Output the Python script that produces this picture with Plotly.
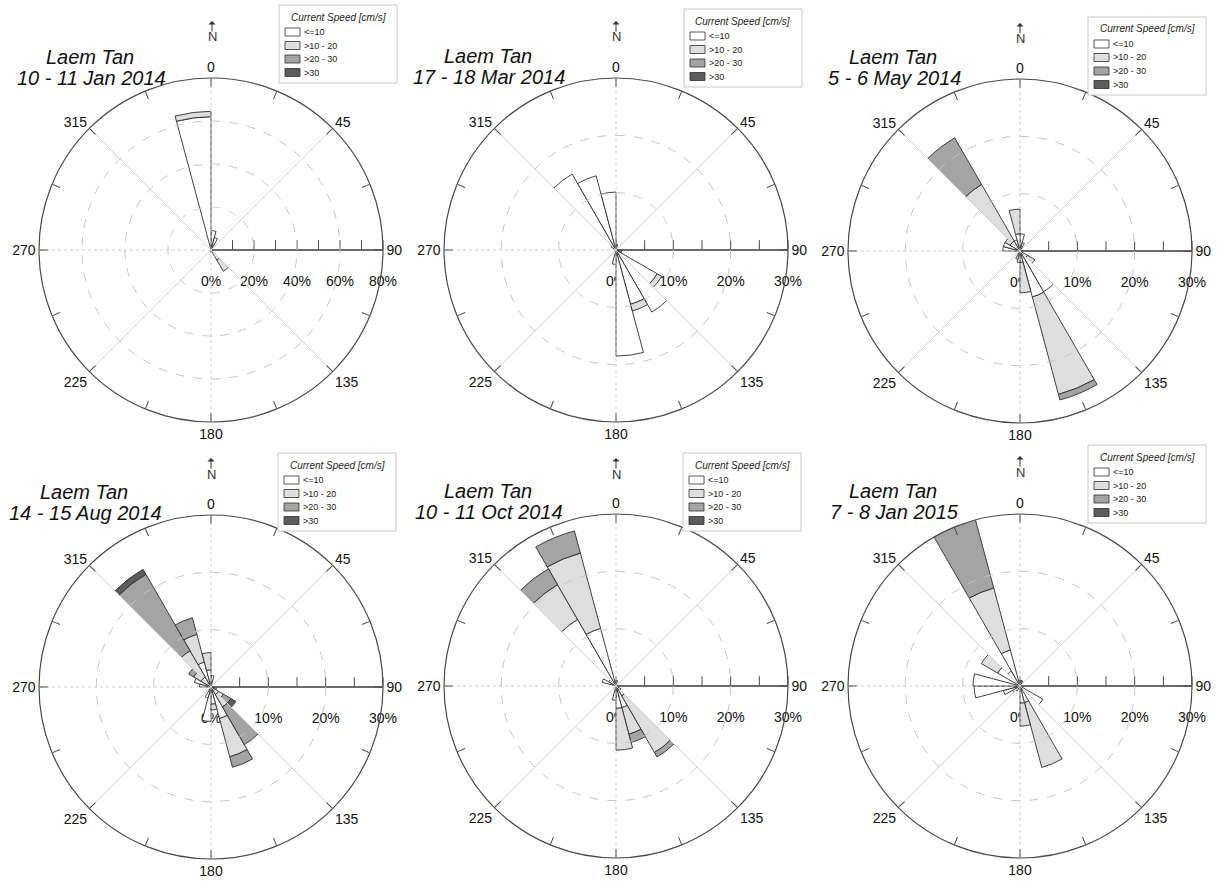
import numpy as np
import plotly.graph_objects as go

# ---------------- data ----------------
DIRECTIONS = [7.5, 22.5, 37.5, 52.5, 67.5, 82.5, 97.5, 112.5, 127.5, 142.5, 157.5, 172.5,
              187.5, 202.5, 217.5, 232.5, 247.5, 262.5, 277.5, 292.5, 307.5, 322.5, 337.5, 352.5]
SPEED_CLASSES = ["<=10", ">10 - 20", ">20 - 30", ">30"]
PANEL_SITE = "Laem Tan"
PANEL_DATES = ["10 - 11 Jan 2014", "17 - 18 Mar 2014", "5 - 6 May 2014",
               "14 - 15 Aug 2014", "10 - 11 Oct 2014", "7 - 8 Jan 2015"]
RADIAL_MAX = [80, 30, 30, 30, 30, 30]

# frequencies (%) per 15-degree direction sector, one list per speed class
JAN14_LE10 = [9, 6, 3, 0, 0, 0, 0, 0, 0, 5.4, 0, 0, 1, 0, 0, 0, 0, 0, 0, 0, 0, 0, 1, 62]
JAN14_10_20 = [0, 0, 0, 0, 0, 0, 0, 0, 0, 6, 0, 0, 0, 0, 0, 0, 0, 0, 0, 0, 0, 0, 0, 2.5]
JAN14_20_30 = [0] * 24
JAN14_GT30 = [0] * 24

MAR14_LE10 = [1, 0, 0, 0, 0, 0, 1, 1, 8.3, 12.5, 9.8, 18.5, 2.5, 0, 0, 0, 0, 0, 0, 0, 1, 15.3, 13.4, 10.1]
MAR14_10_20 = [0, 0, 0, 0, 0, 0, 0, 0, 0.9, 0, 1.2, 0, 0, 0, 0, 0, 0, 0, 0, 0, 0, 0, 0, 0]
MAR14_20_30 = [0] * 24
MAR14_GT30 = [0] * 24

MAY14_LE10 = [3, 1.5, 0, 0, 0, 0, 0, 0, 1.5, 8.2, 8.3, 2, 2, 1.5, 0, 0, 0, 0, 3, 3, 2, 2, 2, 3]
MAY14_10_20 = [0, 0, 0, 0, 0, 0, 0, 0, 1.5, 0, 17.6, 5.3, 0, 0, 0, 0, 0, 0, 0, 0, 1, 11.4, 0, 4.3]
MAY14_20_30 = [0, 0, 0, 0, 0, 0, 0, 0, 0, 0, 1, 0, 0, 0, 0, 0, 0, 0, 0, 0, 0, 9.4, 0, 0]
MAY14_GT30 = [0] * 24

AUG14_LE10 = [2, 0, 0, 0, 0, 0, 0, 1, 1.5, 1.5, 5.7, 3, 6, 2, 0, 0, 0, 0, 2, 3, 2, 2, 4.5, 3]
AUG14_10_20 = [0, 0, 0, 0, 0, 0, 0, 0, 1, 2.5, 6.9, 1, 0, 0, 0, 0, 0, 0, 0, 0, 1.5, 5.3, 5, 3]
AUG14_20_30 = [0, 0, 0, 0, 0, 0, 0, 0, 1.5, 7.6, 1.9, 0, 0, 0, 0, 0, 0, 0, 0, 0, 1, 15.4, 3, 0]
AUG14_GT30 = [0, 0, 0, 0, 0, 0, 0, 0, 1, 0, 0, 0, 0, 0, 0, 0, 0, 0, 0, 0, 0, 1, 0, 0]

OCT14_LE10 = [1, 0, 0, 0, 0, 0, 0, 0, 1, 2, 3.9, 3.9, 2.5, 0, 0, 0, 0, 0, 0, 2.5, 1.5, 13.4, 10.4, 0]
OCT14_10_20 = [0, 0, 0, 0, 0, 0, 0, 0, 0, 11.4, 4.8, 7.3, 0, 0, 0, 0, 0, 0, 0, 0, 0, 7, 13.6, 0]
OCT14_20_30 = [0, 0, 0, 0, 0, 0, 0, 0, 0, 0.9, 1.5, 0, 0, 0, 0, 0, 0, 0, 0, 0, 0, 3.2, 4, 0]
OCT14_GT30 = [0] * 24

JAN15_LE10 = [1, 1, 0, 0, 0, 0, 0, 0, 4.6, 0, 3, 3, 0, 0, 1, 1.5, 3, 8.0, 8.2, 0, 4.5, 3, 6.5, 0]
JAN15_10_20 = [0, 0, 0, 0, 0, 0, 0, 0, 0, 0, 11.7, 4, 0, 0, 0, 0, 0, 0, 0, 0, 3.3, 0, 11.2, 0]
JAN15_20_30 = [0, 0, 0, 0, 0, 0, 0, 0, 0, 0, 0, 0, 0, 0, 0, 0, 0, 0, 0, 0, 0, 0, 13.4, 0]
JAN15_GT30 = [0] * 24

PANELS = [
    [JAN14_LE10, JAN14_10_20, JAN14_20_30, JAN14_GT30],
    [MAR14_LE10, MAR14_10_20, MAR14_20_30, MAR14_GT30],
    [MAY14_LE10, MAY14_10_20, MAY14_20_30, MAY14_GT30],
    [AUG14_LE10, AUG14_10_20, AUG14_20_30, AUG14_GT30],
    [OCT14_LE10, OCT14_10_20, OCT14_20_30, OCT14_GT30],
    [JAN15_LE10, JAN15_10_20, JAN15_20_30, JAN15_GT30],
]

# ---------------- styling / layout ----------------
W, H = 1225, 884
FONT = "Arial, 'Liberation Sans', sans-serif"
CLASS_COLORS = ["#ffffff", "#dedede", "#a4a4a4", "#5c5c5c"]
EDGE = "#2e2e2e"
CENTERS = [(211, 250), (616, 250), (1020, 251), (211, 687), (616, 686), (1020, 686)]
R = 172
TITLE_POS = [(90, 57), (488, 56), (893, 57), (84, 492), (488, 491), (893, 491)]
LEGEND_BOX = [(279, 5), (684, 9), (1088, 17), (278, 453), (683, 453), (1088, 445)]
NORTH_POS = [(212, 33), (616, 33), (1020, 35), (211, 470), (616, 470), (1020, 468)]


def px(x):
    return x / W


def py(y):
    return 1 - y / H


fig = go.Figure()
annotations = []
shapes = []
theta_circle = np.linspace(0, 360, 241)

for k, (cx, cy) in enumerate(CENTERS):
    key = "polar" if k == 0 else f"polar{k + 1}"
    rmax = RADIAL_MAX[k]
    step = rmax / 8 if k == 0 else 5
    rt = list(np.arange(0, rmax + 0.01, step))
    rtext = [f"<br>{int(v)}%" if i % 2 == 0 else "" for i, v in enumerate(rt)]

    # dashed range circles
    for rc in rt[2:-1:2]:
        fig.add_trace(go.Scatterpolar(r=[rc] * len(theta_circle), theta=theta_circle, mode="lines",
                                      line=dict(color="#c4c4c4", width=1, dash="dash"),
                                      hoverinfo="skip", showlegend=False, subplot=key))
    # spokes
    for ang in [0, 45, 135, 180, 225, 270, 315]:
        fig.add_trace(go.Scatterpolar(r=[0, rmax], theta=[ang, ang], mode="lines",
                                      line=dict(color="#cfcfcf", width=1,
                                                dash="dot" if ang % 90 == 0 else "solid"),
                                      hoverinfo="skip", showlegend=False, subplot=key))
    # stacked bars
    for c, vals in enumerate(PANELS[k]):
        r = [v if v > 0 else None for v in vals]
        fig.add_trace(go.Barpolar(r=r, theta=DIRECTIONS, width=15, name=SPEED_CLASSES[c],
                                  marker=dict(color=CLASS_COLORS[c], line=dict(color=EDGE, width=0.9)),
                                  showlegend=False, subplot=key))

    fig.update_layout(**{key: dict(
        domain=dict(x=[px(cx - R), px(cx + R)], y=[py(cy + R), py(cy - R)]),
        bgcolor="rgba(0,0,0,0)",
        barmode="stack",
        angularaxis=dict(rotation=90, direction="clockwise",
                         tickvals=[22.5 * i for i in range(16)],
                         ticktext=[str(int(22.5 * i)) if i % 2 == 0 else "" for i in range(16)],
                         ticks="inside", ticklen=8, tickcolor="#4a4a4a", tickwidth=1,
                         showline=True, linecolor="#4a4a4a", linewidth=1.2, showgrid=False,
                         tickfont=dict(size=14, color="#111", family=FONT)),
        radialaxis=dict(range=[0, rmax], angle=0, tickangle=0, side="clockwise",
                        tickvals=rt, ticktext=rtext, ticks="inside", ticklen=9,
                        tickcolor="#4a4a4a", showline=True, linecolor="#3a3a3a", linewidth=1.6,
                        showgrid=False, layer="below traces",
                        tickfont=dict(size=14, color="#111", family=FONT)),
    )})

    # panel title
    tx, ty = TITLE_POS[k]
    annotations.append(dict(x=px(tx), y=py(ty), xref="paper", yref="paper", text=PANEL_SITE,
                            showarrow=False, xanchor="center", yanchor="middle",
                            font=dict(size=20, family=FONT, style="italic", color="#111")))
    annotations.append(dict(x=px(tx + 1), y=py(ty + 21), xref="paper", yref="paper", text=PANEL_DATES[k],
                            showarrow=False, xanchor="center", yanchor="middle",
                            font=dict(size=20, family=FONT, style="italic", color="#111")))

    # north arrow
    nx, ny = NORTH_POS[k]
    annotations.append(dict(x=px(nx), y=py(ny + 4), xref="paper", yref="paper", text="N",
                            showarrow=False, xanchor="center", yanchor="middle",
                            font=dict(size=13, family=FONT, color="#333")))
    annotations.append(dict(x=px(nx), y=py(ny - 12), xref="paper", yref="paper", text="",
                            showarrow=True, ax=0, ay=12, arrowhead=1, arrowsize=1.2,
                            arrowwidth=1, arrowcolor="#333"))

    # legend box
    lx, ly = LEGEND_BOX[k]
    shapes.append(dict(type="rect", xref="paper", yref="paper", x0=px(lx), x1=px(lx + 118),
                       y0=py(ly + 78), y1=py(ly), line=dict(color="#c8c8c8", width=1),
                       fillcolor="white"))
    annotations.append(dict(x=px(lx + 59), y=py(ly + 12), xref="paper", yref="paper",
                            text="Current Speed [cm/s]", showarrow=False, xanchor="center",
                            yanchor="middle",
                            font=dict(size=10, family=FONT, style="italic", color="#222")))
    for c, lab in enumerate(SPEED_CLASSES):
        ry = ly + 27 + 13.5 * c
        shapes.append(dict(type="rect", xref="paper", yref="paper", x0=px(lx + 6), x1=px(lx + 21),
                           y0=py(ry + 4), y1=py(ry - 4), line=dict(color=EDGE, width=0.8),
                           fillcolor=CLASS_COLORS[c]))
        annotations.append(dict(x=px(lx + 23), y=py(ry), xref="paper", yref="paper", text=lab,
                                showarrow=False, xanchor="left", yanchor="middle",
                                font=dict(size=9, family=FONT, color="#222")))

fig.update_layout(width=W, height=H, margin=dict(l=0, r=0, t=0, b=0),
                  paper_bgcolor="white", plot_bgcolor="white",
                  annotations=annotations, shapes=shapes, showlegend=False,
                  font=dict(family=FONT))

fig.write_html("out.html", config={"displayModeBar": False},
               post_script="document.body.style.margin='0';")
